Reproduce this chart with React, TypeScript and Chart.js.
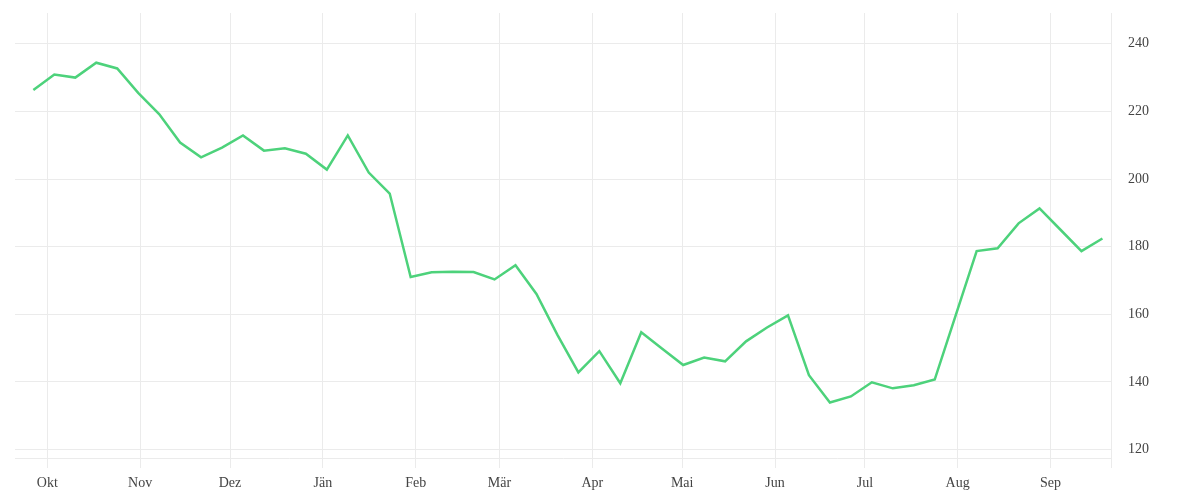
import { useEffect, useRef } from "react";
import { Chart, registerables } from "chart.js";

Chart.register(...registerables);

const DAY = 86400000;
const toDays = (s: string) => Date.parse(s) / DAY;

// first weekly observation and axis range
const firstWeek = "2020-09-26T08:00:00Z";
const xMin = "2020-09-20T04:48:00Z";
const xMax = "2021-09-21T04:48:00Z";

// weekly values
const values = [
  226.3, 230.9, 230.0, 234.4, 232.7, 225.5, 219.2, 210.8, 206.4, 209.3,
  212.9, 208.4, 209.1, 207.5, 202.8, 212.9, 201.9, 195.7, 171.0, 172.4,
  172.6, 172.5, 170.3, 174.5, 166.0, 153.9, 142.8, 149.1, 139.6, 154.7,
  149.8, 145.0, 147.2, 146.1, 152.0, 156.1, 159.7, 142.0, 133.9, 135.7,
  139.9, 138.1, 139.0, 140.7, 159.7, 178.7, 179.5, 186.9, 191.3, 185.0,
  178.7, 182.4,
];

const monthLabels = ["Okt", "Nov", "Dez", "Jän", "Feb", "Mär", "Apr", "Mai", "Jun", "Jul", "Aug", "Sep"];
const monthStarts = [
  "2020-10-01", "2020-11-01", "2020-12-01", "2021-01-01", "2021-02-01", "2021-03-01",
  "2021-04-01", "2021-05-01", "2021-06-01", "2021-07-01", "2021-08-01", "2021-09-01",
];

const yTicks = [120, 140, 160, 180, 200, 220, 240];
const yMin = 117.5;
const yMax = 249.1;

const GRID = "#ebebeb";
const TEXT = "#444444";
const LINE = "#4dd27b";
const FONT = { family: "'Liberation Serif', serif", size: 14 };

export default function App() {
  const ref = useRef<HTMLCanvasElement | null>(null);

  useEffect(() => {
    document.body.style.margin = "0";
    if (!ref.current) return;
    const start = toDays(firstWeek);
    const points = values.map((v, i) => ({ x: start + i * 7, y: v }));
    const monthTicks = monthStarts.map((m) => toDays(m + "T00:00:00Z"));

    const chart = new Chart(ref.current, {
      type: "line",
      data: {
        datasets: [
          {
            data: points,
            borderColor: LINE,
            backgroundColor: LINE,
            borderWidth: 2.5,
            pointRadius: 0,
            pointHoverRadius: 0,
            tension: 0,
            fill: false,
          },
        ],
      },
      options: {
        animation: false,
        responsive: true,
        maintainAspectRatio: false,
        layout: { padding: { left: 15, top: 13, right: 0, bottom: 0 } },
        plugins: { legend: { display: false }, tooltip: { enabled: false } },
        scales: {
          x: {
            type: "linear",
            min: toDays(xMin),
            max: toDays(xMax),
            afterBuildTicks: (scale: any) => {
              scale.ticks = [...monthTicks.map((value) => ({ value })), { value: toDays(xMax) }];
            },
            afterFit: (scale: any) => {
              scale.height = 42;
              scale.paddingLeft = 0;
              scale.paddingRight = 0;
            },
            ticks: {
              autoSkip: false,
              maxRotation: 0,
              padding: 7,
              color: TEXT,
              font: FONT,
              callback: (_v: any, i: number) => monthLabels[i] ?? "",
            },
            grid: { color: GRID, lineWidth: 1, drawTicks: true, tickLength: 10 },
            border: { display: true, color: GRID, width: 1 },
          },
          y: {
            position: "right",
            min: yMin,
            max: yMax,
            afterBuildTicks: (scale: any) => {
              scale.ticks = yTicks.map((value) => ({ value }));
            },
            afterFit: (scale: any) => {
              scale.width = 89;
              scale.paddingTop = 0;
              scale.paddingBottom = 0;
            },
            ticks: { padding: 17, color: TEXT, font: FONT },
            grid: { color: GRID, lineWidth: 1, drawTicks: false },
            border: { display: false },
          },
        },
      },
    });
    return () => chart.destroy();
  }, []);

  return (
    <div style={{ width: 1200, height: 500, position: "relative" }}>
      <canvas ref={ref} />
    </div>
  );
}
